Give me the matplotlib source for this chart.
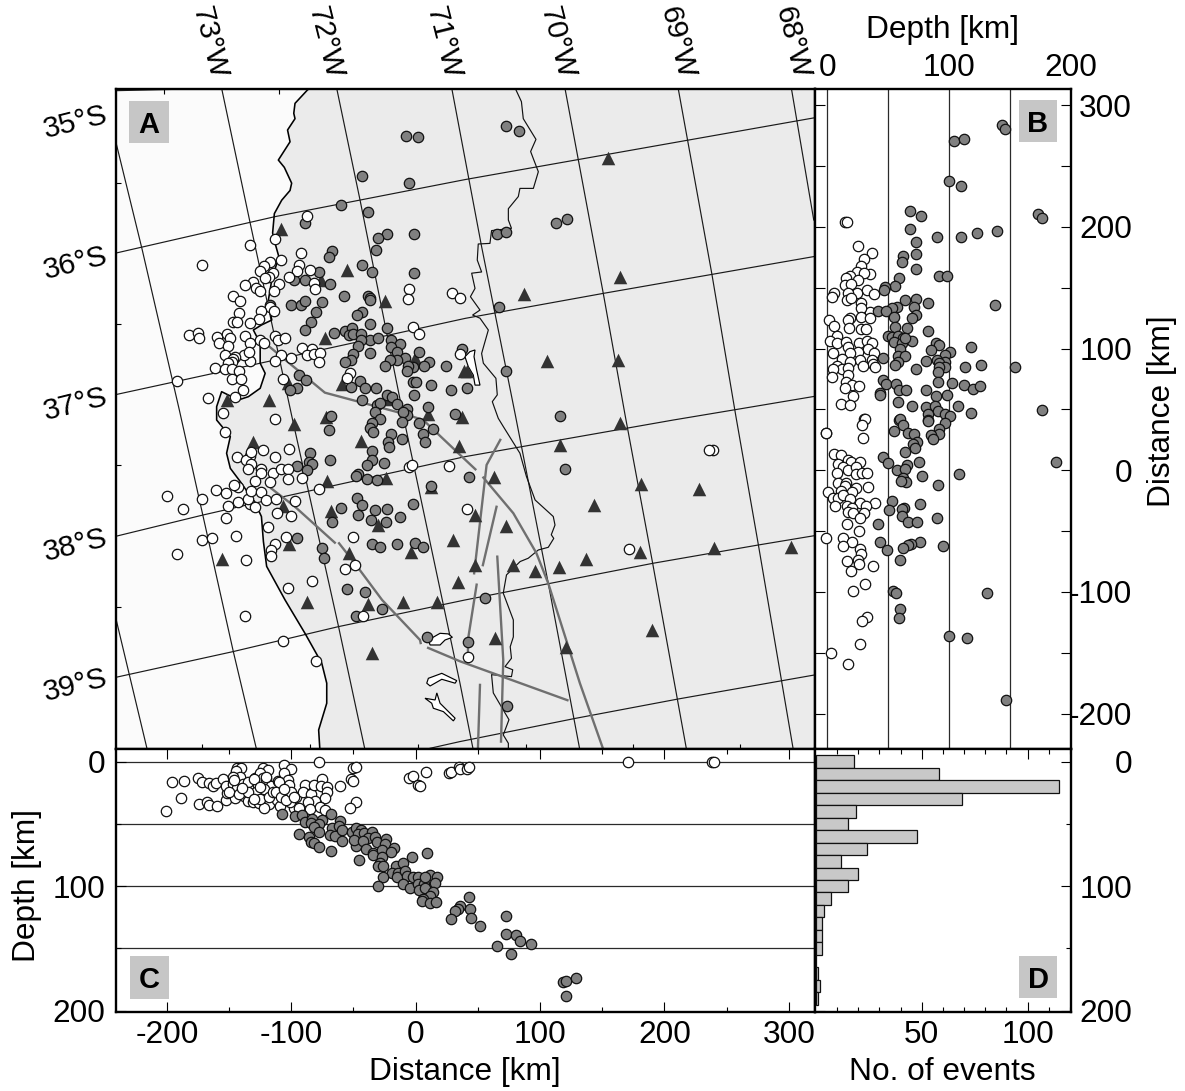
import numpy as np
import matplotlib
matplotlib.use('Agg')
import matplotlib.pyplot as plt
from matplotlib.patches import Polygon, Rectangle

plt.rcParams['font.family'] = ['Liberation Sans', 'DejaVu Sans']
plt.rcParams['font.size'] = 22.8
plt.rcParams['axes.unicode_minus'] = False

W, H = 1185, 1091

# map view: distance east, distance north [km]
map_gray = np.array([
    (-8,275),(2,274),(-43,242),(-5,236),(-60,218),(-38,212),(-89,203),(-23,194),(-30,191),(-1,194),(-32,181),(-67,180),
    (-70,175),(-43,169),(-35,163),(-1,162),(-78,163),(-98,156),(-89,156),(-69,153),(-58,143),(-38,143),(-37,142),(-37,140),
    (-100,136),(-92,136),(-89,139),(-75,138),(-117,136),(-80,130),(-43,130),(-47,128),(-84,122),(-37,120),(-89,115),(-66,113),
    (-23,117),(-57,114.5),(-51.5,117),(-53.6,111),(-50,112),(-44,112),(-37,107),(-30,109),(-20,107),(-44,107),(-13,104),(-20,101),
    (-46,102.4),(-15,97),(-50,95.6),(-37,96),(3,97.5),(-8.5,92.6),(-15,91),(-21,91),(-52,91),(-57,89),(11,89),(7,86),(-2,85),
    (-6,86),(-25,85.4),(-7,82),(24,86),(37.6,100),(-94,78),(-88,74.5),(-95,68),(-101,66),(-45,73),(-52,68.5),(-41,68),(-32,68),
    (-2,72.8),(0,72.5),(12,70),(28.5,65.7),(-1,62),(-43,57.5),(-23,62),(-19,60),(-31,54),(-29,55),(-15,54.5),(10,52),(-33,48),
    (-7,50),(-7,45.4),(-10,48),(32,46),(-68,45),(-29,42),(73,283),(83,279),(65,194),(73,195.6),(113,203.5),(122,206.5),(67,134),
    (73,82),(41.5,67.6),(116,44.4),(120,0.8),(43,-5.5),(55.7,-104.7),(42,-141),(73.4,-194),
    (-70,33),(-35,38.6),(-37,34.5),(-34,31.5),(-20,30),(-22,23),(-21.4,19.5),(-11,40),(-11,25.8),(3,39),(14,33.7),(6,30),(7.6,23),
    (-35,16),(-35,8.5),(-39,4.4),(-25.4,5.8),(-69,8.5),(-84.6,14),(-86,7),(-83,5),(-87,0.3),(-95,3.6),(-46,-3.3),(-48,-4.4),
    (-39,-7),(-31,-8),(12,-13),(-47,-23),(-43,-28.5),(-33,-33),(-23,-31.5),(-46,-36.4),(-35.6,-41),(-24,-42.2),(-13,-38.6),(-2,-28),
    (-60,-30.7),(-67,-42.5),(-95,-56),(-35.4,-61),(-29,-63),(-15,-60.3),(-0.5,-60),(6,-63),(-75,-64),(-74,-72),(-55,-97.5),
    (-41,-100.3),(-27,-114),(-47.7,-120),(9,-137),
])
map_white = np.array([
    (-87,209),(-113,190),(-133,185),(-172,168.5),(-92,178.6),(-108,173),(-94,168.5),(-117,171),(-122,168),(-95,163.5),(-85,164.6),
    (-125,164),(-115,162),(-102,159),(-118,159),(-121,158),(-82,154),(-110,153),(-131,154.5),(-137,152),(-128,150),(-81,149),
    (-125,147),(-113.6,147),(-147,143),(-141,139),(-142,129),(-117,134.5),(-113.6,131),(-124,131),(-126,124),(-147,122),(-143.5,122),
    (-133,121),(-182,111.5),(-175,112.6),(-174,109),(-160,109.6),(-152,112),(-149,109),(-158,104.6),(-151,102),(-137,110),(-133,104.6),
    (-125,107),(-122,104.6),(-113,110),(-111,107),(-105,109),(-91,100.8),(-83,99.4),(-87,95),(-82,95.6),(-77,96),(-78,88.7),(-100.5,92.6),
    (-108,94.5),(-113,90),(-133,89.5),(-138,95),(-134,97),(-153,94.8),(-145,93.4),(-147,91.7),(-148,88.7),(-151,88),(-161,84.3),(-153,83.5),
    (-148,83),(-142,82),(-191.6,73.4),(-148,75),(-140.4,74.7),(-138.5,66),(-167,59.4),(-145,60),(-155,47.4),(-107,75),(-53,79.7),(-55,75.6),
    (-2,117.5),(3,112),(-5,149),(-6,141),(29,146),(36,142),(36,95.6),
    (-113,42),(-153.5,31.5),(-144,11),(-123,16.4),(-113,11),(-102,17.5),(-133.4,11.8),(-136,8.5),(-132,15),(-132,5),(-134.5,1.4),(-124,1.4),
    (-124,-2),(-114.7,-2.5),(-108.5,1),(-103,1),(-102.6,-7),(-91,-6.3),(-117,-10),(-129,-9),(-142.5,-13.4),(-146,-12.3),(-160.5,-16.4),
    (-152.5,-19),(-200,-21),(-172,-23.3),(-187,-32),(-151,-29.3),(-142.5,-26),(-133.4,-27.4),(-134.5,-24),(-132,-17),(-124,-18),(-120.6,-24.6),
    (-112,-23.3),(-129,-30.4),(-97,-25.5),(-77.7,-15),(-111.5,-35),(-100.5,-37.5),(-152.5,-39.5),(-118.7,-46.3),(-144.4,-54),(-171.5,-57.5),
    (-163.7,-56),(-104,-55),(-113,-61),(-116.5,-65.5),(-116.2,-70.4),(-192,-69),(-136.4,-73.7),(-50,-54.5),(-57,-81.4),(-49,-78),(-83.6,-91.2),
    (-102.6,-96.4),(-137,-120),(-42,-120),(-106.4,-140),(-80,-157),(-5.6,3),(-3,4.4),(27,3.8),
    (239,17),(236,17),(171.5,-65),(41.5,-31.5),(41.8,-153.4),
])
stations = np.array([
    (155,257),(164,159),(87,144.6),(105.5,90),(163,90.6),(41,82),(-108,198),(-55,165),(-76.4,156),(-25,139),(-72.6,108.7),(-0.5,92.6),
    (39,81.6),(-59.5,71),(-103,72),(-117.6,58),(-152,58),(-23,58.5),(10,46),(37,43.5),(-72,43.5),(-98,38),(-130.5,23),(-44,24),(35,20),
    (-71,-8.5),(-24,-6.6),(-107,-29),(-68,-33.4),(-30.5,-45),(-102,-61),(30,-57),(-4,-67),(-54,-68),(-156,-72.6),(34,-92),(-87,-108),
    (-38,-110),(-10,-108),(17.5,-108),(-35,-150.4),(12,-14),(164.5,39),(116,20.8),(62.7,-5.2),(181,-11),(227.5,-15.3),(143.6,-28.5),
    (47.4,-37),(73,-45.5),(48,-78),(78.5,-78),(95.6,-82.5),(115.5,-79.5),(136.6,-73),(180.6,-67.4),(239.6,-63.6),(302,-62.7),(190,-131.2),
    (64,-137.5),(121,-145),
])

coast = [
    (-85,314),(-87,312.6),(-97,301.6),(-98,293.4),(-97,289),(-103,279.7),(-101,270),(-110.4,255),(-105.6,249),(-99.7,236),(-101,230),
    (-107.7,222),(-113.6,211),(-115,195),(-113,186.5),(-110,175.6),(-115.7,156.4),(-118.4,140),(-115.7,123.5),(-124,119.4),(-130.5,115.3),
    (-125,104.4),(-125,88),(-121,79.7),(-125,67.4),(-134.5,60.5),(-142.5,57.8),(-156,64.6),(-160,52.3),(-160,41.3),(-149,27.7),(-152,14),
    (-149,1.6),(-141,-9.3),(-129,-27),(-124,-38),(-122.4,-58.6),(-119.8,-79),(-105,-106.6),(-89,-134),(-75.5,-158.6),(-71.5,-175),
    (-71.5,-191.5),(-78,-213.4),(-77,-230),
]
border = [
    (80,314),(85,303),(86.5,289),(96.7,272),(92.4,262),(95,255),(98.6,245.4),(94.6,231.7),(83.8,231.7),(82.5,225),(74.5,215),(74.5,205.7),
    (77,198.9),(61,197),(59.7,186.5),(50.3,186),(49.5,172.8),(53,163),(45,162),(47.7,149.5),(44,142.7),(51.7,131.7),(45.8,127.6),(51.7,125),
    (58.4,115.3),(53,96),(54.4,88),(64.5,75.6),(65.6,62),(61.6,56.4),(66.4,42.7),(70.4,36),(83.8,14),(89,-5),(96,-24.4),(110.6,-38),(112,-45),
    (109,-53),(111,-56),(106.6,-63.3),(98.6,-65.5),(90.5,-72.3),(84,-75),(73,-86),(70.4,-101),(78.5,-123),(78.5,-137),(76,-145),(77,-154.5),
    (71.8,-161.4),(78,-164),(77,-169.6),(61,-168),(62.4,-183),(70.4,-197),(75,-205),(70.4,-217.5),(74.5,-224.4),(74.5,-230),
]
lakes = [
    [(10.2,-139.5),(19.6,-134),(26.3,-134.5),(29.5,-137.3),(23.6,-139.5),(19.6,-143.6),(11.6,-143.6)],
    [(10.2,-171),(21,-166.9),(33,-172.9),(31.7,-175),(21,-171.8),(11.6,-177.3),(8.9,-175)],
    [(7.5,-187.4),(15.6,-188.8),(17,-183),(19.6,-191.5),(31.7,-203.8),(30.3,-206),(22.3,-198.4),(14.2,-195.6),(12.9,-191.5)],
    [(39.6,93.4),(43.6,97.5),(47.7,98.9),(46.9,93.4),(49,82.4),(51.7,70),(47.7,70),(46.3,78.3),(42.3,85.2)],
]
faults = [
    [(-121,104.5),(-73,63.8),(-11,46.8),(6,41.4),(40,8.5),(48,0.8)],
    [(-116,-15),(-97,-30),(-65,-59.5)],
    [(-61.6,-60),(-49,-76.4),(-27,-106.6),(3.5,-139.5),(4,-142)],
    [(10,-146),(35.6,-157),(122,-189)],
    [(68,25),(57,4.4),(47,-84.7)],
    [(54.4,-6),(78.5,-35.3),(97,-68),(106.6,-93),(132,-175),(151,-230)],
    [(65,-30),(54,-78)],
    [(49,-94),(42,-139.5),(42,-149)],
    [(65.6,-71),(70.4,-156),(68.6,-223)],
    [(51.7,-176.4),(50,-230)],
]
parallels = [
    [(-242,312),(-156,314)],
    [(-242,178.3),(-113,208.5),(40,239),(322,290)],
    [(-242,62),(-125,88),(40,124.9),(150.8,145.4),(322,176)],
    [(-242,-54.5),(-170.7,-36.7),(-107.7,-22),(39.7,11.2),(207,41.3),(258,50),(322,61)],
    [(-242,-170.4),(-146.6,-149),(-62,-128.5),(39.7,-106.6),(191,-76.4),(275.5,-61.4),(322,-53.5)],
    [(11.6,-228.5),(35.6,-223),(128,-204),(211,-188),(322,-168)],
]
meridians = [
    [(-242,-117.5),(-215.7,-230)],
    [(-242,274),(-220,182),(-190,49.6),(-146.6,-149),(-127.8,-230)],
    [(-156,314),(-133,203),(-99.7,45),(-62,-128.5),(-40.7,-230)],
    [(-63.5,314),(-44.7,222),(-9,40),(35.6,-175),(46.3,-230)],
    [(29,314),(53,183.8),(80,46),(106.6,-93),(132,-230)],
    [(120,314),(150.8,145.4),(168.4,45),(190.5,-76.4),(217.8,-230)],
    [(211,314),(238,161.9),(257.3,45),(275.5,-61.4),(303.6,-230)],
    [(302,314),(320,205.7)],
]
map_top_ticks = [-202, -110, -17.6, 75, 166.6, 257.6]
map_bottom_ticks = [-172, -85, 2, 89, 175, 261]
map_left_ticks = [236, 120, 4, -112]
map_right_ticks = [233, 118, 3.5, -111, -226]
lon_labels = ['73°W', '72°W', '71°W', '70°W', '69°W', '68°W']
lon_label_x = [-166, -73, 22, 114, 210, 303]
lat_labels = ['35°S', '36°S', '37°S', '38°S', '39°S']
lat_label_y = [286, 170, 54, -62, -177]

# depth against north distance
b_gray = np.array([
    (143,284),(145.7,280.5),(104,271),(112,272),(99.6,237.8),(110,233.7),(67.6,213.4),(76.9,209),(67.9,198.3),(172.8,210.7),(176,207),
    (90,192),(110,192),(123,194.8),(139,197),(73,187.9),(73,178),(62,175.9),(61.6,171),(73,165.7),(92,160),(98.5,160),(58.8,158.3),
    (55.8,151.5),(47.6,151),(46.6,148.5),(138,136),(73,141),(63.8,140),(82.6,137.8),(70.9,134),(57,134.5),(53,133.7),(41.6,131),(48,131),
    (73,127.7),(69.8,125.5),(55,125.7),(55.3,117.5),(65,117.2),(83,114.5),(50,110.4),(52.8,109.8),(58,110),(62.4,109),(69.5,106.6),
    (54.5,105.7),(61.6,105),(63.8,108.5),(60,100),(89,105),(91.4,102.7),(85,99),(117.6,101),(100.6,97),(97,95),(57.8,94),(63.8,94),(46,92.6),
    (90,91),(97,88.7),(92,87.9),(81,89.8),(58,88.7),(55.6,86.8),(112.7,85),(125.8,86.8),(154,84.9),(73,83),(96.5,84.6),(92,84.6),(91,81),
    (46,74),(48,70.7),(56.4,71),(58.8,66),(64.6,65.7),(91,72.6),(102.6,72),(112,70.4),(119.5,67),(125.5,69),(81,66),(43,63.8),(43,62),
    (89.4,61),(98,61.6),(58.3,56),(69.5,52.8),(81,52.3),(88.6,53),(107,52.8),(91,49),(83,46),(96.5,46.3),(100.6,45),(117.9,46.8),(176,49.6),
    (59,41.3),(83,41.3),(59.4,42),(61.9,37),(83,40.6),(97,39),(55,32.6),(66,30.4),(70.9,29.9),(92,34),(92,29.9),(85,28.8),(87,25.5),
    (73.6,23.6),(70.6,22),(72,18.6),(63.5,14.8),(45.7,10.7),(50,5.8),(75,6.9),(65.7,4.4),(57.5,0),(63.8,0.8),(62.4,-6.6),(77.7,-4.7),
    (108,-3.3),(64.6,-9.3),(60.5,-8.5),(90.8,-12),(188,6.9),(53.4,-25.2),(76,-27.7),(63,-30.7),(61.3,-32),(51,-32.6),(61.3,-37.5),(90,-39.4),
    (66.5,-42.5),(73.9,-42.7),(41.9,-44),(43,-58.9),(49,-65.5),(76,-59),(68.7,-60.5),(66,-61.4),(62,-63.6),(94.6,-62.2),(59.7,-74),
    (53.7,-99),(56.7,-100.8),(131,-101),(60,-114),(58.8,-121.4),(99.6,-135.9),(115,-138),(147,-189),
])
b_white = np.array([
    (14.6,204.4),(16.5,203.8),(25,184.6),(37,178.6),(30,174),(28,168),(24,163.3),(35,161.6),(30.4,162),(19,160),(15,158.3),(25.5,156.4),
    (14.6,152),(19.5,153),(32.3,148),(24,146),(38.6,145),(17.3,145.5),(5.6,146),(3.7,142.7),(16.5,140),(19.8,141.4),(27.4,137.2),(35,129.8),
    (28,133),(28,125.7),(35,125),(18.7,125),(17.3,123.5),(1.7,123.8),(5.8,118.6),(17.9,116.7),(28,116),(31.5,116),(7.8,110.7),(2.3,106.6),
    (8.3,105),(15,105.7),(26.3,104.4),(32.3,106.6),(36.4,104.4),(17.3,101.6),(33,99.4),(25.5,97.5),(5,96.4),(18.7,96),(38.4,96),(12.4,91.5),
    (27,90.7),(36.4,90.7),(37.8,87.4),(18.7,89.3),(29,86),(39,84.6),(7.8,85.7),(12.4,83.3),(4.5,83),(17.3,83.8),(3.7,76.4),(17.3,78.3),
    (15,72.8),(20.6,70),(26.3,69.6),(14.9,67.4),(21.4,61.3),(11.3,54.8),(19,53.7),(30.4,41.9),(30.7,42),(28.5,37.5),(-1,30.7),(-1,30.4),
    (29,26.3),(5.3,13.4),(11.6,12.3),(8.6,5.2),(16.8,8.5),(19.8,7),(27,7),(13.2,3),(17.3,0.3),(23.3,3),(7.8,-2.5),(23.3,-3.3),(28.8,-2.5),
    (32.3,-2.5),(8.6,-10.7),(15,-10.7),(14.6,-12.9),(23.3,-14.2),(33.7,-13.4),(0.4,-17.5),(11.3,-17),(20.6,-18),(4.5,-22.5),(8.9,-22.5),
    (13,-20),(18.7,-23.8),(26.9,-27),(39.4,-26.8),(31.5,-29),(6.4,-29.3),(16.5,-29.3),(20.6,-31),(17.3,-34.2),(21.4,-35.3),(30.4,-34.8),
    (26.9,-39.4),(16,-43.8),(25.8,-50),(-1,-55.3),(13.2,-55.9),(20,-58.6),(13.2,-62.2),(26.9,-65),(27.4,-69),(16,-74.5),(25.5,-74),(26.3,-77),
    (37.5,-78.6),(19.5,-83),(30.7,-93.4),(20.9,-99),(32.3,-120.8),(28.8,-123.6),(26.9,-142.8),(2.8,-150),(17.3,-159),
])

# distance against depth
c_gray = np.array([
    (-107.7,42),(-96.7,43.6),(-91.6,42.8),(-68,42.3),(-60.5,47.4),(-89,48.2),(-83,46),(-75.5,46.8),(-84.4,49),(-77.7,49.8),(-82,52.7),
    (-94,58),(-86,60.5),(-84,64.2),(-82,65.6),(-77.4,56.7),(-77.7,68.5),(-67.5,53.5),(-61.3,51.6),(-68.8,58.9),(-64.8,59.7),(-59.5,54.9),
    (-59.5,63.4),(-67.8,71.5),(-51.4,56.7),(-48,53.5),(-44,54.9),(-46.6,58.4),(-41.2,57),(-35,56.2),(-38.5,61.6),(-32.7,60.8),(-31.3,64.8),
    (-24,62),(-24.6,65.8),(-48,64.2),(-48,68),(-49.8,62.9),(-42,64),(-39.6,70.4),(-34.5,73.6),(-34,75),(-45.8,78.7),(-27,71),(-17.4,69),
    (-20,72.8),(-27.3,76.3),(-28.6,81),(-30,83.5),(-26.5,83.5),(-3,76.8),(8.9,73.6),(-16,83.5),(-10,81.6),(-19,89.7),(-14.4,89.7),(-15,92.6),
    (-8.5,87.8),(-7,91.5),(-1.8,92.9),(2.2,92.3),(-26.2,92.9),(-30.5,100),(-10,98),(-4.5,101.7),(2.2,98),(7,98.2),(2.7,103),(7.5,101.7),
    (11.6,91),(17,92.3),(7.5,92.3),(15.6,97.7),(13.7,104.7),(11.6,107.6),(6.2,110.5),(4.9,112.2),(11.6,113.8),(16,113),(43,109),(36,116),
    (34,118),(32,119.6),(43.4,118),(28.4,126.6),(44.8,125.8),(51.8,132),(73,124),(72.7,138.7),(80.5,139.5),(83.6,144),(92.8,146.4),(65,148),
    (76.4,154.4),(118.6,177),(121,176.5),(129,174),(121,188),
])
c_white = np.array([
    (-196,16.3),(-186,15.2),(-188.6,29.2),(-200.7,39.6),(-175,13.4),(-172,16.3),(-166,16.8),(-162.6,19.5),(-160.5,16.8),(-155,14.2),(-174,34),
    (-167.5,32.6),(-166.4,35),(-160,35.3),(-152.5,30.8),(-152,25.4),(-152.7,19.3),(-147,18.2),(-145,28.9),(-144,20.9),(-145,10.7),(-143.3,4.8),
    (-140.4,4.8),(-144.7,7.5),(-141.4,12.3),(-147,12),(-138.5,18.2),(-138.2,27.3),(-135,31.3),(-133.4,21.4),(-129,26.8),(-131,32.6),(-126,33.4),
    (-126.7,18.7),(-129,13.4),(-123,4.8),(-118.4,6.4),(-125,9.4),(-123,13.4),(-120.6,14),(-116,19.8),(-121,26.2),(-117.6,34),(-122,37),
    (-111.7,30.8),(-111,15.2),(-107.7,19.3),(-105,26.2),(-105.6,2.7),(-100.5,5.9),(-106,8.8),(-102.9,14.7),(-102,18.7),(-109.3,35.3),(-97.8,37.5),
    (-96,28.6),(-101,32.6),(-94,37.5),(-89,18.5),(-90.8,24.3),(-84.4,26.2),(-81.7,19),(-75.5,14.2),(-76.4,19.3),(-71.5,20.6),(-71,24.6),(-73,29.4),
    (-80.9,31.3),(-86.8,32),(-85,38.3),(-77,36.4),(-72.9,39),(-61,19.8),(-78,0.5),(-50,4.8),(-48,4),(-52,13.9),(-50.6,15.5),(-48,32.6),(-53,37.5),
    (-5,13.4),(-1.8,11.2),(2.2,18.7),(3.8,19.8),(8.3,8.3),(27,8.8),(28.5,8.6),(35,4),(36,5.9),(41,6.1),(43,4.5),(171,0),(238,0),(240,0),
    (-150,24),(-142,26),(-135,16),(-130,14),(-128,24),(-125,30),(-122,22),(-118,28),(-115,24),(-112,24),(-108,28),(-104,31),(-100,24),(-98,28),
    (-110,16),(-120,12),(-125,20),(-135,24),(-140,21),(-146,15),(-130,30),(-106,22),
])

# events per 10 km depth bin
hist_depth = [0, 10, 20, 30, 40, 50, 60, 70, 80, 90, 100, 110, 120, 130, 140, 150, 160, 170, 180, 190]
hist_count = [18, 58, 115, 69, 19, 15, 48, 24, 12, 20, 15, 7, 4, 3, 3, 3, 0, 1, 2, 1]

def add_axes_px(left, right, top, bottom):
    return fig.add_axes([left / W, 1 - bottom / H, (right - left) / W, (bottom - top) / H])

def circles(ax, pts, color, zorder):
    ax.scatter(pts[:, 0], pts[:, 1], s=56, facecolor=color, edgecolor='#111111', linewidth=0.9, zorder=zorder)

def panel_tag(ax, letter, x0, y0, x1, y1):
    # tag box given in figure pixels
    r = Rectangle((x0 / W, 1 - y1 / H), (x1 - x0) / W, (y1 - y0) / H, transform=fig.transFigure, facecolor='#c6c6c6', edgecolor='none', zorder=8)
    ax.add_patch(r)
    ax.text((x0 + x1) / 2 / W, 1 - (y0 + y1) / 2 / H, letter, transform=fig.transFigure, ha='center', va='center_baseline', fontsize=21, fontweight='bold', zorder=9)

def style_spines(ax):
    for s in ax.spines.values():
        s.set_linewidth(1.7)
        s.set_zorder(20)

fig = plt.figure(figsize=(W / 100, H / 100), dpi=100)

# ---- panel A
ax_a = add_axes_px(116, 815, 89, 749)
ax_a.set_xlim(-240.9, 321)
ax_a.set_ylim(-229.1, 313.4)
ax_a.set_facecolor('#fbfbfb')
land = coast + [(325, -232), (325, 316)]
ax_a.add_patch(Polygon(land, closed=True, facecolor='#ebebeb', edgecolor='none', zorder=1))
for line in parallels + meridians:
    xy = np.array(line)
    ax_a.plot(xy[:, 0], xy[:, 1], color='#1a1a1a', lw=0.85, zorder=2)
xy = np.array(coast)
ax_a.plot(xy[:, 0], xy[:, 1], color='black', lw=1.15, zorder=3)
xy = np.array(border)
ax_a.plot(xy[:, 0], xy[:, 1], color='#111111', lw=0.85, zorder=3)
for lake in lakes:
    ax_a.add_patch(Polygon(lake, closed=True, facecolor='white', edgecolor='black', lw=0.85, zorder=3))
for line in faults:
    xy = np.array(line)
    ax_a.plot(xy[:, 0], xy[:, 1], color='#6f6f6f', lw=1.7, zorder=4)
ax_a.scatter(stations[:, 0], stations[:, 1], marker='^', s=95, color='#333333', linewidth=0, zorder=5)
circles(ax_a, map_gray, '#808080', 6)
circles(ax_a, map_white, 'white', 7)
ax_a.set_xticks(map_bottom_ticks, labels=[])
ax_a.set_yticks(map_left_ticks, labels=[])
ax_a.tick_params(direction='in', length=3.6, width=0.8)
top_sec = ax_a.secondary_xaxis('top')
top_sec.set_xticks(map_top_ticks, labels=[])
top_sec.tick_params(direction='in', length=3.6, width=0.8)
right_sec = ax_a.secondary_yaxis('right')
right_sec.set_yticks(map_right_ticks, labels=[])
right_sec.tick_params(direction='in', length=3.6, width=0.8)
for lab, x in zip(lon_labels, lon_label_x):
    ax_a.text(x, 1.0698, lab, transform=ax_a.get_xaxis_transform(), rotation=-76, ha='center', va='center', rotation_mode='anchor', fontsize=21.5)
for lab, y in zip(lat_labels, lat_label_y):
    ax_a.text(-0.0586, y, lab, transform=ax_a.get_yaxis_transform(), rotation=14, ha='center', va='center', rotation_mode='anchor', fontsize=21.5)
style_spines(ax_a)
panel_tag(ax_a, 'A', 129, 101, 169, 143)

# ---- panel B
ax_b = add_axes_px(815, 1071, 89, 749)
ax_b.set_xlim(-10.1, 199.7)
ax_b.set_ylim(-229.1, 313.4)
for d in [0, 50, 100, 150]:
    ax_b.axvline(d, color='#2a2a2a', lw=0.9, zorder=1)
circles(ax_b, b_white, 'white', 3)
circles(ax_b, b_gray, '#808080', 3)
ax_b.xaxis.tick_top()
ax_b.set_xticks([0, 100, 200])
ax_b.tick_params(axis='x', length=0, pad=4)
ax_b.set_yticks([-200, -150, -100, -50, 0, 50, 100, 150, 200, 250, 300])
ax_b.set_yticklabels(['-200', '', '-100', '', '0', '', '100', '', '200', '', '300'])
ax_b.tick_params(axis='y', direction='in', length=7.2, width=0.8, left=True, right=True, labelleft=False, labelright=True, pad=44)
for t in ax_b.get_yticklabels():
    t.set_ha('right')
style_spines(ax_b)
panel_tag(ax_b, 'B', 1019, 100, 1057, 142)

# ---- panel C
ax_c = add_axes_px(116, 815, 749, 1012)
ax_c.set_xlim(-240.9, 321)
ax_c.set_ylim(201, -10.2)
for d in [0, 50, 100, 150]:
    ax_c.axhline(d, color='#2a2a2a', lw=0.9, zorder=1)
circles(ax_c, c_white, 'white', 3)
circles(ax_c, c_gray, '#808080', 4)
ax_c.set_xticks(range(-200, 301, 100))
ax_c.set_xticks(range(-150, 301, 100), minor=True)
ax_c.set_yticks([0, 100, 200])
ax_c.set_yticks([50, 150], minor=True)
ax_c.tick_params(which='major', direction='in', length=7.2, width=0.8, top=True)
ax_c.tick_params(which='minor', direction='in', length=3.6, width=0.8, top=True)
ax_c.tick_params(axis='x', which='major', pad=6)
ax_c.tick_params(axis='y', which='major', pad=8)
style_spines(ax_c)
panel_tag(ax_c, 'C', 130, 956, 169, 999)

# ---- panel D
ax_d = add_axes_px(815, 1071, 749, 1012)
ax_d.set_xlim(-0.4, 120.5)
ax_d.set_ylim(201, -10.2)
ax_d.barh(hist_depth, hist_count, height=10, color='#c8c8c8', edgecolor='#111111', linewidth=0.9, zorder=2)
ax_d.set_xticks([50, 100])
ax_d.set_xticks(range(10, 121, 10), minor=True)
ax_d.set_yticks([0, 100, 200])
ax_d.set_yticks([50, 150], minor=True)
ax_d.tick_params(which='major', direction='in', length=7.2, width=0.8, top=True, left=True, right=True, labelleft=False, labelright=True)
ax_d.tick_params(which='minor', direction='in', length=3.6, width=0.8, top=True, left=True, right=True)
ax_d.tick_params(axis='x', which='major', pad=6)
ax_d.tick_params(axis='y', which='major', pad=44)
for t in ax_d.get_yticklabels():
    t.set_ha('right')
style_spines(ax_d)
panel_tag(ax_d, 'D', 1019, 956, 1057, 998)

fig.text(942 / W, 1 - 30 / H, 'Depth [km]', ha='center', va='center')
fig.text(1162 / W, 1 - 411 / H, 'Distance [km]', rotation=90, ha='center', va='center')
fig.text(27 / W, 1 - 885 / H, 'Depth [km]', rotation=90, ha='center', va='center')
fig.text(465 / W, 1 - 1072 / H, 'Distance [km]', ha='center', va='center')
fig.text(942 / W, 1 - 1072 / H, 'No. of events', ha='center', va='center')

fig.savefig('out.png', dpi=100)
